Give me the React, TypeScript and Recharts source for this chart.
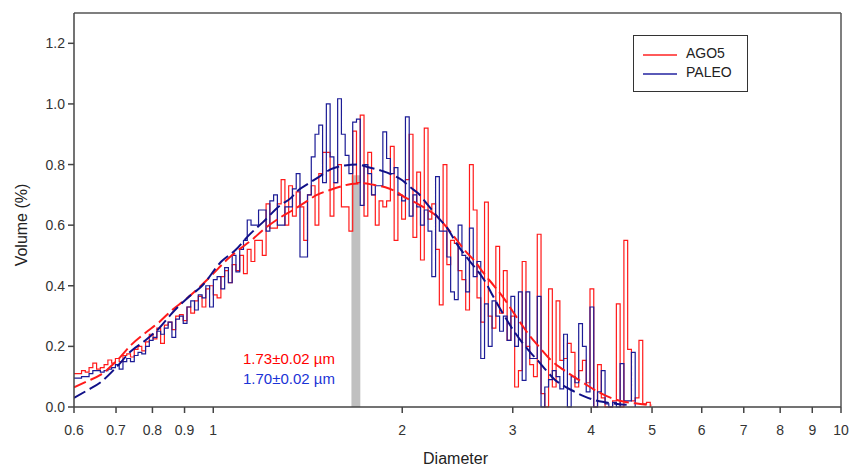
import React from 'react';
import {
  LineChart,
  Line,
  XAxis,
  YAxis,
  ReferenceArea,
  ReferenceLine,
} from 'recharts';

// histogram values per channel (channels are 0.006 decade wide, starting at 0.6 µm)
const RED_HIST = [
  0.11, 0.11, 0.12, 0.115, 0.13, 0.145, 0.125, 0.13, 0.14, 0.155,
  0.145, 0.16, 0.15, 0.17, 0.175, 0.165, 0.19, 0.2, 0.185, 0.215,
  0.24, 0.225, 0.26, 0.21, 0.27, 0.28, 0.255, 0.3, 0.305, 0.285,
  0.33, 0.31, 0.35, 0.365, 0.33, 0.39, 0.4, 0.37, 0.36, 0.43,
  0.45, 0.41, 0.47, 0.45, 0.5, 0.44, 0.52, 0.48, 0.55, 0.55,
  0.5, 0.67, 0.59, 0.59, 0.67, 0.75, 0.6, 0.73, 0.63, 0.71,
  0.66, 0.55, 0.7, 0.73, 0.6, 0.77, 0.84, 0.84, 0.63, 0.74,
  0.8, 0.66, 0.66, 0.58, 0.91, 0.74, 0.963, 0.63, 0.84, 0.7,
  0.6, 0.68, 0.66, 0.68, 0.86, 0.55, 0.7, 0.62, 0.75, 0.9,
  0.56, 0.775, 0.485, 0.92, 0.62, 0.67, 0.52, 0.337, 0.8, 0.47,
  0.55, 0.54, 0.45, 0.42, 0.32, 0.8, 0.65, 0.36, 0.28, 0.676,
  0.3, 0.26, 0.53, 0.31, 0.45, 0.22, 0.3, 0.066, 0.12, 0.48,
  0.2, 0.14, 0.1, 0.57, 0.044, 0.0, 0.39, 0.066, 0.35, 0.154,
  0.16, 0.21, 0.18, 0.066, 0.12, 0.154, 0.08, 0.39, 0.0, 0.14,
  0.03, 0.0, 0.0, 0.02, 0.34, 0.0, 0.55, 0.19, 0.02, 0.03,
  0.22, 0.01, 0.015, 0.0,
];

const BLUE_HIST = [
  0.095, 0.095, 0.1, 0.1, 0.11, 0.12, 0.12, 0.115, 0.12, 0.125,
  0.13, 0.14, 0.125, 0.15, 0.16, 0.15, 0.17, 0.18, 0.175, 0.2,
  0.22, 0.23, 0.25, 0.24, 0.26, 0.28, 0.23, 0.29, 0.3, 0.276,
  0.33, 0.35, 0.32, 0.37, 0.36, 0.4, 0.33, 0.42, 0.43, 0.39,
  0.46, 0.41, 0.5, 0.446, 0.52, 0.55, 0.617, 0.6, 0.6, 0.65,
  0.65, 0.58, 0.68, 0.7, 0.6, 0.6, 0.66, 0.66, 0.72, 0.77,
  0.495, 0.495, 0.7, 0.825, 0.9, 0.93, 0.74, 1.0, 0.825, 0.74,
  1.017, 0.9, 0.83, 0.77, 0.94, 0.95, 0.665, 0.8, 0.77, 0.7,
  0.73, 0.73, 0.908, 0.82, 0.77, 0.79, 0.7, 0.68, 0.957, 0.63,
  0.7, 0.66, 0.6, 0.65, 0.58, 0.43, 0.76, 0.58, 0.58, 0.495,
  0.38, 0.354, 0.6, 0.5, 0.38, 0.59, 0.43, 0.48, 0.16, 0.34,
  0.2, 0.35, 0.3, 0.25, 0.3, 0.22, 0.365, 0.2, 0.38, 0.088,
  0.38, 0.16, 0.16, 0.365, 0.0, 0.066, 0.09, 0.12, 0.1, 0.06,
  0.24, 0.0, 0.1, 0.08, 0.275, 0.2, 0.05, 0.33, 0.0, 0.05,
  0.12, 0.01, 0.0, 0.015, 0.0, 0.143, 0.02, 0.02, 0.18, 0.0,
];

// lognormal fits
const RED_FIT_D = [0.6, 0.63, 0.66, 0.7, 0.74, 0.78, 0.82, 0.86, 0.9, 0.95, 1.0, 1.05, 1.1, 1.15, 1.2, 1.28, 1.34, 1.4, 1.46, 1.53, 1.6, 1.66, 1.73, 1.8, 1.88, 1.95, 2.02, 2.1, 2.18, 2.28, 2.36, 2.44, 2.52, 2.6, 2.7, 2.8, 2.9, 3.0, 3.1, 3.2, 3.3, 3.45, 3.6, 3.75, 3.9, 4.1, 4.3, 4.5, 4.7, 5.0];
const RED_FIT_V = [0.065, 0.085, 0.105, 0.15, 0.205, 0.245, 0.28, 0.32, 0.352, 0.395, 0.44, 0.485, 0.52, 0.55, 0.584, 0.626, 0.65, 0.675, 0.699, 0.715, 0.728, 0.736, 0.738, 0.733, 0.725, 0.712, 0.692, 0.674, 0.655, 0.626, 0.59, 0.552, 0.515, 0.485, 0.44, 0.4, 0.36, 0.315, 0.272, 0.232, 0.2, 0.155, 0.125, 0.1, 0.078, 0.05, 0.03, 0.018, 0.012, 0.006];

const BLUE_FIT_D = [0.6, 0.63, 0.66, 0.7, 0.74, 0.78, 0.82, 0.86, 0.91, 0.96, 1.03, 1.085, 1.14, 1.2, 1.28, 1.33, 1.36, 1.42, 1.48, 1.54, 1.62, 1.7, 1.76, 1.85, 1.92, 2.0, 2.06, 2.12, 2.2, 2.28, 2.36, 2.44, 2.52, 2.6, 2.7, 2.8, 2.9, 3.0, 3.1, 3.2, 3.3, 3.4, 3.5, 3.6, 3.75, 3.9, 4.05, 4.2, 4.4, 4.6];
const BLUE_FIT_V = [0.03, 0.055, 0.08, 0.13, 0.185, 0.22, 0.26, 0.31, 0.36, 0.4, 0.48, 0.518, 0.567, 0.61, 0.666, 0.69, 0.712, 0.738, 0.762, 0.785, 0.797, 0.8, 0.792, 0.78, 0.768, 0.748, 0.725, 0.705, 0.665, 0.626, 0.59, 0.54, 0.5, 0.465, 0.42, 0.36, 0.305, 0.256, 0.215, 0.18, 0.15, 0.118, 0.09, 0.072, 0.052, 0.035, 0.023, 0.016, 0.01, 0.007];

const X_TICKS = [0.6, 0.7, 0.8, 0.9, 1, 2, 3, 4, 5, 6, 7, 8, 9, 10];
const Y_TICKS = [0, 0.2, 0.4, 0.6, 0.8, 1.0, 1.2];

const RED = '#ff1a1a';
const BLUE = '#1c1c96';
const FONT = '"Liberation Sans", Arial, sans-serif';

const histData = RED_HIST.map((r, i) => ({
  d: 0.6 * Math.pow(10, 0.006 * i),
  red: r,
  blue: i < BLUE_HIST.length ? BLUE_HIST[i] : null,
}));
const redFit = RED_FIT_D.map((d, i) => ({ d, v: RED_FIT_V[i] }));
const blueFit = BLUE_FIT_D.map((d, i) => ({ d, v: BLUE_FIT_V[i] }));

const tickStyle = { fill: '#333', fontSize: 14, fontFamily: FONT };

export default function App() {
  return (
    <div style={{ position: 'absolute', left: 0, top: 0, width: 851, height: 468, background: '#fff', fontFamily: FONT }}>
      <LineChart
        width={851}
        height={468}
        data={histData}
        margin={{ top: 13, right: 10, bottom: 21, left: 14 }}
      >
        <XAxis
          dataKey="d"
          type="number"
          scale="log"
          domain={[0.6, 10]}
          allowDataOverflow
          ticks={X_TICKS}
          tickFormatter={(v) => String(v)}
          tick={tickStyle}
          tickSize={6}
          tickMargin={12}
          height={40}
          stroke="#444"
          strokeWidth={1.5}
        />
        <YAxis
          type="number"
          domain={[0, 1.3]}
          ticks={Y_TICKS}
          tickFormatter={(v) => v.toFixed(1)}
          tick={tickStyle}
          tickSize={6}
          tickMargin={3}
          width={60}
          stroke="#444"
          strokeWidth={1.5}
        />
        <ReferenceArea x1={1.66} x2={1.715} y1={0} y2={0.765} fill="#c0c0c0" fillOpacity={1} stroke="none" />
        <ReferenceLine y={1.3} stroke="#555" strokeWidth={1.5} />
        <ReferenceLine x={10} stroke="#555" strokeWidth={1.5} />
        <Line type="stepAfter" dataKey="red" stroke={RED} strokeWidth={1.2} dot={false} isAnimationActive={false} />
        <Line type="stepAfter" dataKey="blue" stroke={BLUE} strokeWidth={1.2} dot={false} isAnimationActive={false} />
        <Line data={redFit} dataKey="v" type="monotone" stroke={RED} strokeWidth={2} strokeDasharray="13 5" dot={false} isAnimationActive={false} />
        <Line data={blueFit} dataKey="v" type="monotone" stroke="#101088" strokeWidth={2} strokeDasharray="13 5" dot={false} isAnimationActive={false} />
      </LineChart>

      {/* legend */}
      <div style={{ position: 'absolute', left: 633, top: 35, width: 113, height: 55, border: '1.5px solid #333', background: '#fff' }}>
        <div style={{ position: 'absolute', left: 9, top: 18, width: 34, height: 1.5, background: '#ff5a5a' }} />
        <div style={{ position: 'absolute', left: 52, top: 9, fontSize: 14, color: '#222' }}>AGO5</div>
        <div style={{ position: 'absolute', left: 9, top: 37, width: 34, height: 1.5, background: '#5a5ab8' }} />
        <div style={{ position: 'absolute', left: 52, top: 28, fontSize: 14, color: '#222' }}>PALEO</div>
      </div>

      {/* annotations */}
      <div style={{ position: 'absolute', left: 243, top: 350, whiteSpace: 'nowrap', fontSize: 15, color: '#ff0000' }}>1.73±0.02 µm</div>
      <div style={{ position: 'absolute', left: 243, top: 370, whiteSpace: 'nowrap', fontSize: 15, color: '#1a33d6' }}>1.70±0.02 µm</div>

      {/* axis titles */}
      <div style={{ position: 'absolute', left: 0, top: 450, width: 851, paddingLeft: 30, textAlign: 'center', fontSize: 16, color: '#222' }}>Diameter</div>
      <div style={{ position: 'absolute', left: 22, top: 225, transform: 'translate(-50%, -50%) rotate(-90deg)', whiteSpace: 'nowrap', fontSize: 16, color: '#222' }}>Volume (%)</div>
    </div>
  );
}
